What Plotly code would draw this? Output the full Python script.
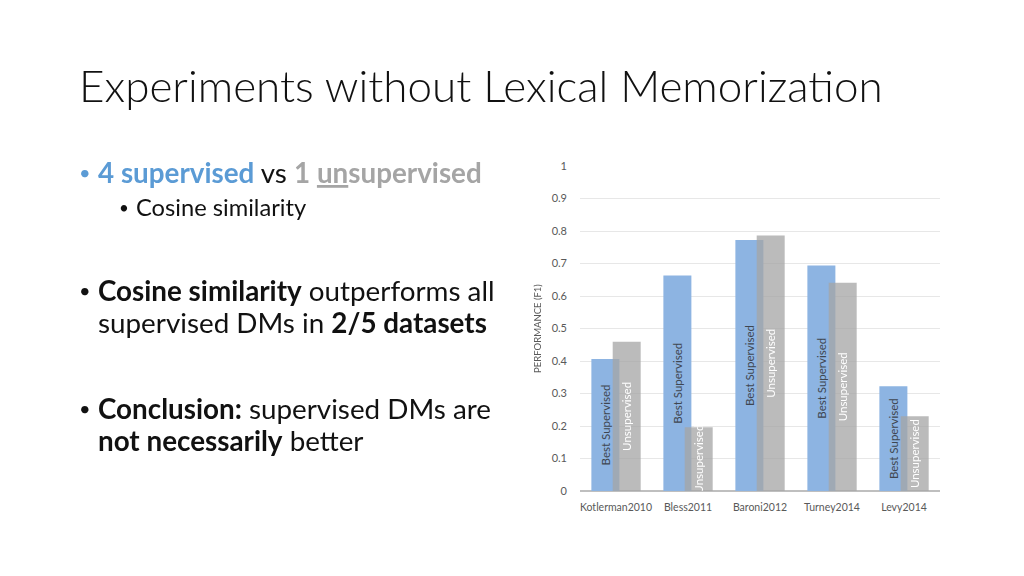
import plotly.graph_objects as go

datasets = ["Kotlerman2010", "Bless2011", "Baroni2012", "Turney2014", "Levy2014"]
best_supervised = [0.406, 0.663, 0.772, 0.694, 0.322]
unsupervised = [0.459, 0.196, 0.786, 0.641, 0.230]
y_ticks = [0, 0.1, 0.2, 0.3, 0.4, 0.5, 0.6, 0.7, 0.8, 0.9, 1]
y_tick_labels = ["0", "0.1", "0.2", "0.3", "0.4", "0.5", "0.6", "0.7", "0.8", "0.9", "1"]

W, H = 1024, 576
OFF = 8  # page body margin offset
PL, PR, PT, PB = 580 - OFF, 940 - OFF, 166 - OFF, 490.7 - OFF


def px(x):
    return (x - OFF - PL) / (PR - PL)


def py(y):
    return (PB - (y - OFF)) / (PB - PT)


FONT = "Lato, 'Open Sans', sans-serif"
BODY = 27.8
SUB = 23.7

fig = go.Figure()
fig.add_trace(go.Bar(
    x=datasets, y=best_supervised, name="Best Supervised",
    marker=dict(color="#8DB4E2", line=dict(width=0)),
    offset=-0.342, width=0.389,
    text=["Best Supervised"] * len(datasets),
    textposition="inside", insidetextanchor="middle", textangle=-90,
    textfont=dict(family=FONT, size=11.5, color="#3F4650"),
    cliponaxis=True,
))
fig.add_trace(go.Bar(
    x=datasets, y=unsupervised, name="Unsupervised",
    marker=dict(color="#A6A6A6", line=dict(width=0)), opacity=0.76,
    offset=-0.046, width=0.389,
    text=["Unsupervised"] * len(datasets),
    textposition="inside", insidetextanchor="middle", textangle=-90,
    textfont=dict(family=FONT, size=11.5, color="#FFFFFF"),
    cliponaxis=True,
))

annotations = [
    dict(text="Experiments without Lexical Memorization", x=px(77), y=py(85),
         font=dict(family=FONT, size=44, color="#111111", weight=300)),
    dict(text="•", x=px(77), y=py(172),
         font=dict(family=FONT, size=20, color="#5B9BD5")),
    dict(text="<b><span style='color:#5B9BD5'>4 supervised</span></b> vs "
              "<b><span style='color:#A5A5A5'>1 <u>un</u>supervised</span></b>",
         x=px(96), y=py(172), font=dict(family=FONT, size=BODY, color="#111111")),
    dict(text="•", x=px(117), y=py(207), font=dict(family=FONT, size=17, color="#111111")),
    dict(text="Cosine similarity", x=px(134), y=py(207),
         font=dict(family=FONT, size=SUB, color="#111111")),
    dict(text="•", x=px(77), y=py(290), font=dict(family=FONT, size=20, color="#111111")),
    dict(text="<b>Cosine similarity</b> outperforms all", x=px(96), y=py(290),
         font=dict(family=FONT, size=BODY, color="#111111")),
    dict(text="supervised DMs in <b>2/5 datasets</b>", x=px(96), y=py(322),
         font=dict(family=FONT, size=BODY, color="#111111")),
    dict(text="•", x=px(77), y=py(408), font=dict(family=FONT, size=20, color="#111111")),
    dict(text="<b>Conclusion:</b> supervised DMs are", x=px(96), y=py(408),
         font=dict(family=FONT, size=BODY, color="#111111")),
    dict(text="<b>not necessarily</b> better", x=px(96), y=py(440),
         font=dict(family=FONT, size=BODY, color="#111111")),
]
for a in annotations:
    a.update(xref="paper", yref="paper", xanchor="left", yanchor="middle",
             showarrow=False, align="left")

fig.update_layout(
    width=W, height=H,
    margin=dict(l=PL, r=W - PR, t=PT, b=H - PB, pad=0),
    paper_bgcolor="white", plot_bgcolor="white",
    barmode="overlay", showlegend=False,
    uniformtext=dict(minsize=11.5, mode="show"),
    annotations=annotations,
    font=dict(family=FONT, color="#595959"),
)
fig.update_xaxes(
    showgrid=False, showline=False, zeroline=False,
    tickfont=dict(family=FONT, size=10.5, color="#595959"),
    ticks="", ticklabelstandoff=8, range=[-0.5, 4.5],
)
fig.update_yaxes(
    range=[0, 1], tickvals=y_ticks, ticktext=y_tick_labels,
    showgrid=True, gridcolor="#E7E7E7", gridwidth=1,
    zeroline=True, zerolinecolor="#BFBFBF", zerolinewidth=1.5,
    showline=False, ticks="", ticklabelstandoff=12,
    tickfont=dict(family=FONT, size=11, color="#595959"),
    title=dict(text="PERFORMANCE (F1)", standoff=8,
               font=dict(family=FONT, size=9.5, color="#595959")),
)

fig.write_html("out.html")
